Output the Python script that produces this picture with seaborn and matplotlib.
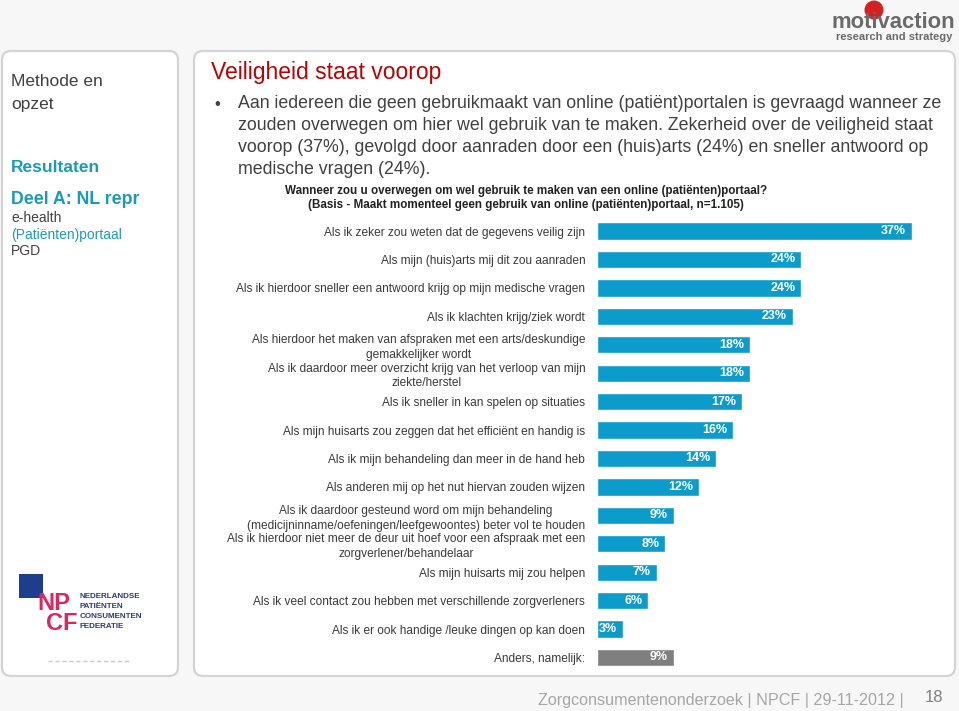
import matplotlib

matplotlib.use("Agg")
import matplotlib.pyplot as plt  # noqa: E402
import matplotlib.transforms as mtransforms  # noqa: E402
from matplotlib.patches import FancyBboxPatch, Rectangle, Circle  # noqa: E402
import pandas as pd  # noqa: E402
import seaborn as sns  # noqa: E402

# --- data -------------------------------------------------------------------
reasons = [
    "Als ik zeker zou weten dat de gegevens veilig zijn",
    "Als mijn (huis)arts mij dit zou aanraden",
    "Als ik hierdoor sneller een antwoord krijg op mijn medische vragen",
    "Als ik klachten krijg/ziek wordt",
    "Als hierdoor het maken van afspraken met een arts/deskundige\ngemakkelijker wordt",
    "Als ik daardoor meer overzicht krijg van het verloop van mijn\nziekte/herstel",
    "Als ik sneller in kan spelen op situaties",
    "Als mijn huisarts zou zeggen dat het efficiënt en handig is",
    "Als ik mijn behandeling dan meer in de hand heb",
    "Als anderen mij op het nut hiervan zouden wijzen",
    "Als ik daardoor gesteund word om mijn behandeling\n(medicijninname/oefeningen/leefgewoontes) beter vol te houden",
    "Als ik hierdoor niet meer de deur uit hoef voor een afspraak met een\nzorgverlener/behandelaar",
    "Als mijn huisarts mij zou helpen",
    "Als ik veel contact zou hebben met verschillende zorgverleners",
    "Als ik er ook handige /leuke dingen op kan doen",
    "Anders, namelijk:",
]
percent = [37, 24, 24, 23, 18, 18, 17, 16, 14, 12, 9, 8, 7, 6, 3, 9]
is_other = [False] * 15 + [True]

BLUE = "#0b9ccb"
GREY_BAR = "#7f7f7f"
TEXT = "#3a3a3a"
TEAL = "#1b9bb7"
RED = "#c00000"

sns.set_style("white")
plt.rcParams["font.family"] = ["Liberation Sans", "DejaVu Sans"]

W, H = 959, 711
fig = plt.figure(figsize=(W / 100, H / 100), dpi=100, facecolor="#f7f7f7")
# pixel coordinates, origin top-left
px = mtransforms.Affine2D().scale(1 / W, -1 / H).translate(0, 1) + fig.transFigure


def panel(x0, y0, x1, y1):
    p = FancyBboxPatch((x0, y0), x1 - x0, y1 - y0,
                       boxstyle="round,pad=0,rounding_size=9",
                       transform=px, facecolor="white", edgecolor="#d4d4d4",
                       linewidth=1.6, zorder=-1)
    fig.patches.append(p)


panel(2, 51, 178, 676)
panel(194, 51, 955, 676)

# --- left navigation panel --------------------------------------------------
fig.text(11, 82, "Methode en", transform=px, fontsize=12.5, color="#404040", va="center")
fig.text(11, 104, "opzet", transform=px, fontsize=12.5, color="#404040", va="center")
fig.text(11, 167, "Resultaten", transform=px, fontsize=12.5, color=TEAL,
         fontweight="bold", va="center")
fig.text(11, 199, "Deel A: NL repr", transform=px, fontsize=12.8, color=TEAL,
         fontweight="bold", va="center")
fig.text(11, 218, "e-health", transform=px, fontsize=10, color="#404040", va="center")
fig.text(11, 235, "(Patiënten)portaal", transform=px, fontsize=10, color=TEAL, va="center")
fig.text(11, 251, "PGD", transform=px, fontsize=10, color="#404040", va="center")

# NPCF logo
fig.patches.append(Rectangle((19, 574), 24, 24, transform=px, facecolor="#1f3d8f",
                             edgecolor="none"))
fig.text(37, 610, "NP", transform=px, fontsize=17, fontweight="bold", color="#e0245e",
         va="baseline")
fig.text(46, 630, "CF", transform=px, fontsize=17, fontweight="bold", color="#e0245e",
         va="baseline")
for i, w in enumerate(["NEDERLANDSE", "PATIËNTEN", "CONSUMENTEN", "FEDERATIE"]):
    fig.text(80, 597 + i * 10, w, transform=px, fontsize=5.8, fontweight="bold",
             color="#2b3a7a", va="center")
fig.lines.append(plt.Line2D([48, 131], [661, 661], transform=px, color="#c8c8c8",
                            linestyle=(0, (3, 2)), linewidth=1))

# motivaction logo
fig.patches.append(Circle((874, 10), 9.5, transform=px, facecolor="#d42020",
                          edgecolor="none", zorder=1))
fig.text(893, 22, "motivaction", transform=px, fontsize=15.8, fontweight="bold",
         color="#6a6a6a", ha="center", va="center", zorder=2)
fig.text(894, 37, "research and strategy", transform=px, fontsize=8,
         fontweight="bold", color="#6a6a6a", ha="center", va="center")

# --- title & bullet ---------------------------------------------------------
fig.text(211, 72, "Veiligheid staat voorop", transform=px, fontsize=16.5, color=RED,
         va="center")
bullet_lines = [
    "Aan iedereen die geen gebruikmaakt van online (patiënt)portalen is gevraagd wanneer ze",
    "zouden overwegen om hier wel gebruik van te maken. Zekerheid over de veiligheid staat",
    "voorop (37%), gevolgd door aanraden door een (huis)arts (24%) en sneller antwoord op",
    "medische vragen (24%).",
]
fig.text(214, 105, "•", transform=px, fontsize=12, color="#404040", va="center")
for i, line in enumerate(bullet_lines):
    fig.text(238, 104 + i * 22, line, transform=px, fontsize=12.75, color="#404040",
             va="center")

fig.text(526, 191, "Wanneer zou u overwegen om wel gebruik te maken van een online (patiënten)portaal?",
         transform=px, fontsize=8.4, fontweight="bold", color="#222222",
         ha="center", va="center")
fig.text(526, 205, "(Basis - Maakt momenteel geen gebruik van online (patiënten)portaal, n=1.105)",
         transform=px, fontsize=8.4, fontweight="bold", color="#222222",
         ha="center", va="center")

# --- bar chart --------------------------------------------------------------
df = pd.DataFrame({"reason": reasons, "percent": percent, "other": is_other})
top, bottom = 216.8, 671.7
ax = fig.add_axes([597 / W, 1 - bottom / H, 340 / W, (bottom - top) / H])
ax.set_zorder(2)
ax.set_facecolor("none")
sns.barplot(data=df, x="percent", y="reason", hue="reason", legend=False,
            palette=[GREY_BAR if o else BLUE for o in is_other],
            orient="h", width=0.61, saturation=1, ax=ax)
ax.set_xlim(0, 40)
ax.set_ylim(len(reasons) - 0.5, -0.5)
ax.set_xlabel("")
ax.set_ylabel("")
ax.set_xticks([])
ax.tick_params(axis="y", length=0, pad=8.5, labelsize=8.6, labelcolor=TEXT)
for t in ax.get_yticklabels():
    t.set_multialignment("center")
    t.set_linespacing(1.3)
sns.despine(ax=ax, left=True, bottom=True)

for i, v in enumerate(percent):
    ax.annotate(f"{v}%", xy=(v, i), xytext=(-4, 0), textcoords="offset points",
                ha="right", va="center", fontsize=9, fontweight="bold",
                color="white")

# --- footer -----------------------------------------------------------------
fig.text(904, 700, "Zorgconsumentenonderzoek | NPCF | 29-11-2012 |", transform=px,
         fontsize=11.6, color="#a6a6a6", ha="right", va="center")
fig.text(934, 698, "18", transform=px, fontsize=12, color="#7f7f7f", ha="center",
         va="center")

fig.savefig("out.png", dpi=100, facecolor=fig.get_facecolor())
